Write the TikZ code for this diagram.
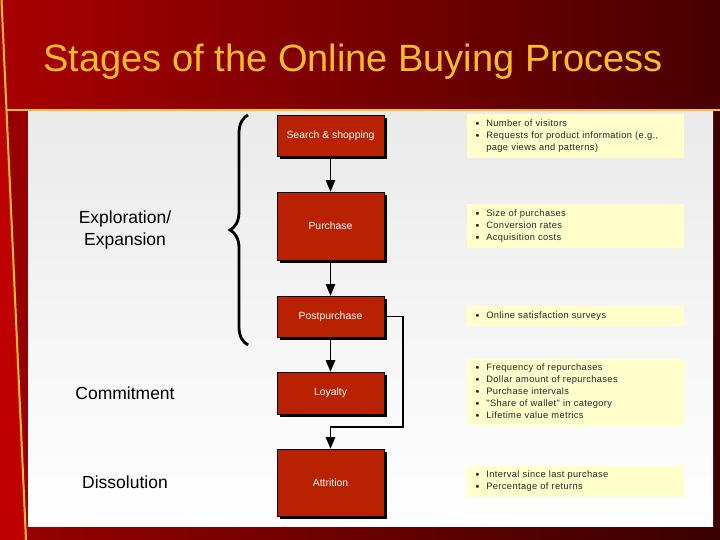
\documentclass[tikz,border=0pt]{standalone}
\usepackage{fontspec}
\setmainfont{Liberation Sans}
\newfontfamily\metricfont[LetterSpace=4]{Liberation Sans}
\usepackage{xcolor}
\usepackage{tikz}
\usetikzlibrary{shapes,shadows,arrows,calc}
\usetikzlibrary{decorations.pathreplacing}

\definecolor{cBandLeft}{RGB}{168,0,0}
\definecolor{cBandRight}{RGB}{72,0,0}
\definecolor{cStrip}{RGB}{150,0,0}
\definecolor{cGold}{RGB}{255,190,40}
\definecolor{cStage}{RGB}{184,34,0}
\definecolor{cMetric}{RGB}{255,255,204}
\definecolor{cPanel}{RGB}{234,234,234}

\tikzstyle{tsStage} = [
    rectangle,
    draw=black,
    line width=0.6pt,
    fill=cStage,
    text=white,
    font=\fontsize{10.4}{12}\selectfont,
    minimum width=107pt,
    drop shadow={shadow xshift=3pt, shadow yshift=-3pt, fill=black, opacity=1}
]
\tikzstyle{tsMetric} = [
    rectangle,
    fill=cMetric,
    text=black!85,
    font=\metricfont\fontsize{9.3}{12}\selectfont,
    text width=200pt,
    inner xsep=8.5pt,
    inner ysep=0pt,
    align=left
]
\tikzstyle{tsPhase} = [
    text=black,
    font=\fontsize{17.5}{22}\selectfont,
    align=center
]
\tikzstyle{tsArrow} = [
    -triangle 45,
    line width=1.7pt,
    black
]

\newcommand{\bul}{\raisebox{-0.8pt}{\fontsize{11}{12}\selectfont\textbullet}}

\begin{document}
\begin{tikzpicture}[x=1pt, y=-1pt]

        \useasboundingbox (0,0) rectangle (720,540);

        % frame
        \fill[cStrip!70!black] (0,0) rectangle (720,540);
        \shade[left color=cBandLeft, right color=cBandRight] (0,0) rectangle (720,110);
        \fill[cStrip] (6,110) rectangle (28,540);
        \fill[red!75!black] (0,110) -- (6,110) -- (26,540) -- (0,540) -- cycle;
        \shade[left color=cStrip, right color=cBandRight!80!black] (28,526) rectangle (720,540);
        \fill[cBandRight!85!black] (713,110) rectangle (720,526);
        \shade[top color=cPanel, bottom color=white] (28,112) rectangle (713,526);
        \draw[cGold, line width=2.5pt] (6,110) -- (720,110);
        \draw[cGold, line width=2pt] (1.5,0) -- (26,540);

        \node[text=cGold, font=\fontsize{38}{40}\selectfont] (title) at (353,62)
            {Stages of the Online Buying Process};

        % phases
        \node[tsPhase] (explore) at (125,230) {Exploration/\\Expansion};
        \node[tsPhase] (commit) at (125,393) {Commitment};
        \node[tsPhase] (dissolve) at (125,482) {Dissolution};

        \draw[decorate, decoration={brace, amplitude=18pt}, line width=2.8pt]
            (248,345) -- (248,115);

        % stages
        \node[tsStage, minimum height=41pt] (search) at (330.5,135.5) {Search \& shopping};
        \node[tsStage, minimum height=68pt] (purchase) at (330.5,226) {Purchase};
        \node[tsStage, minimum height=41pt] (post) at (330.5,316.5) {Postpurchase};
        \node[tsStage, minimum height=42pt] (loyalty) at (330.5,393) {Loyalty};
        \node[tsStage, minimum height=67pt] (attrition) at (330.5,482.5) {Attrition};

        \draw[tsArrow] (search) -- (purchase);
        \draw[tsArrow] (purchase) -- (post);
        \draw[tsArrow] (post) -- (loyalty);
        \coordinate (loopTop) at (403,316.5);
        \coordinate (loopBot) at (403,427);
        \draw[tsArrow] ([xshift=3pt]post.east) -- (loopTop) -- (loopBot) -| (attrition.north);

        % metrics
        \node[tsMetric, minimum height=44pt] (mSearch) at (575.5,136) {%
            \begin{tabular}{@{}l@{\hspace{7pt}}l@{}}
            \bul & Number of visitors\\
            \bul & Requests for product information (e.g.,\\
                 & page views and patterns)
            \end{tabular}};
        \node[tsMetric, minimum height=44pt] (mPurchase) at (575.5,226) {%
            \begin{tabular}{@{}l@{\hspace{7pt}}l@{}}
            \bul & Size of purchases\\
            \bul & Conversion rates\\
            \bul & Acquisition costs
            \end{tabular}};
        \node[tsMetric, minimum height=20pt] (mPost) at (575.5,316) {%
            \begin{tabular}{@{}l@{\hspace{7pt}}l@{}}
            \bul & Online satisfaction surveys
            \end{tabular}};
        \node[tsMetric, minimum height=67pt] (mLoyalty) at (575.5,392.5) {%
            \begin{tabular}{@{}l@{\hspace{7pt}}l@{}}
            \bul & Frequency of repurchases\\
            \bul & Dollar amount of repurchases\\
            \bul & Purchase intervals\\
            \bul & "Share of wallet" in category\\
            \bul & Lifetime value metrics
            \end{tabular}};
        \node[tsMetric, minimum height=31pt] (mAttrition) at (575.5,481.5) {%
            \begin{tabular}{@{}l@{\hspace{7pt}}l@{}}
            \bul & Interval since last purchase\\
            \bul & Percentage of returns
            \end{tabular}};

\end{tikzpicture}
\end{document}
